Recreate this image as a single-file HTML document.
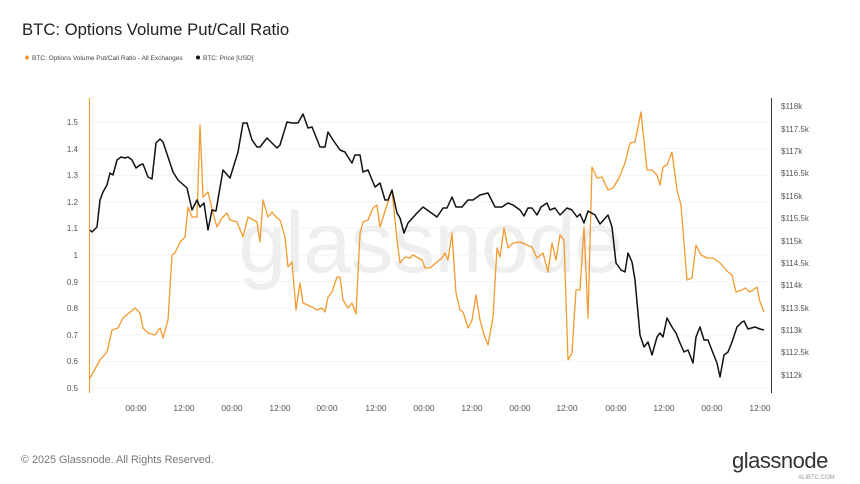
<!DOCTYPE html>
<html><head><meta charset="utf-8"><style>
html,body{margin:0;padding:0;background:#fff;width:860px;height:484px;overflow:hidden}
svg{display:block;font-family:"Liberation Sans",sans-serif}
</style></head><body>
<svg width="860" height="484" viewBox="0 0 860 484">
<text x="22" y="35" font-size="16.7" fill="#222">BTC: Options Volume Put/Call Ratio</text>
<circle cx="27" cy="57.5" r="2" fill="#f29a2e"/>
<text x="32" y="60" font-size="6.5" fill="#444">BTC: Options Volume Put/Call Ratio - All Exchanges</text>
<circle cx="198" cy="57.5" r="2" fill="#111"/>
<text x="203" y="60" font-size="6.5" fill="#444">BTC: Price [USD]</text>
<text x="430" y="272" font-size="86" fill="#eeeeee" text-anchor="middle" letter-spacing="-1">glassnode</text>
<g stroke="#f3f3f3" stroke-width="1">
<line x1="90" x2="770" y1="122" y2="122"/><line x1="90" x2="770" y1="148.6" y2="148.6"/><line x1="90" x2="770" y1="175.2" y2="175.2"/><line x1="90" x2="770" y1="201.8" y2="201.8"/><line x1="90" x2="770" y1="228.4" y2="228.4"/><line x1="90" x2="770" y1="255" y2="255"/><line x1="90" x2="770" y1="281.6" y2="281.6"/><line x1="90" x2="770" y1="308.2" y2="308.2"/><line x1="90" x2="770" y1="334.8" y2="334.8"/><line x1="90" x2="770" y1="361.4" y2="361.4"/><line x1="90" x2="770" y1="388" y2="388"/>
</g>
<line x1="89.5" y1="98" x2="89.5" y2="393" stroke="#f29a2e" stroke-width="1"/>
<line x1="771.5" y1="98" x2="771.5" y2="393" stroke="#333" stroke-width="1"/>
<g font-size="8" fill="#555" text-anchor="end">
<text x="78" y="125">1.5</text><text x="78" y="152">1.4</text><text x="78" y="178">1.3</text><text x="78" y="205">1.2</text><text x="78" y="231">1.1</text><text x="78" y="258">1</text><text x="78" y="285">0.9</text><text x="78" y="311">0.8</text><text x="78" y="338">0.7</text><text x="78" y="364">0.6</text><text x="78" y="391">0.5</text>
</g>
<g font-size="8" fill="#555">
<text x="781" y="109">$118k</text><text x="781" y="132">$117.5k</text><text x="781" y="154">$117k</text><text x="781" y="176">$116.5k</text><text x="781" y="199">$116k</text><text x="781" y="221">$115.5k</text><text x="781" y="244">$115k</text><text x="781" y="266">$114.5k</text><text x="781" y="288">$114k</text><text x="781" y="311">$113.5k</text><text x="781" y="333">$113k</text><text x="781" y="355">$112.5k</text><text x="781" y="378">$112k</text>
</g>
<g font-size="8.5" fill="#555" text-anchor="middle">
<text x="136" y="411">00:00</text><text x="184" y="411">12:00</text><text x="232" y="411">00:00</text><text x="280" y="411">12:00</text><text x="327" y="411">00:00</text><text x="376" y="411">12:00</text><text x="424" y="411">00:00</text><text x="472" y="411">12:00</text><text x="520" y="411">00:00</text><text x="567" y="411">12:00</text><text x="616" y="411">00:00</text><text x="664" y="411">12:00</text><text x="712" y="411">00:00</text><text x="760" y="411">12:00</text>
</g>
<polyline fill="none" stroke="#f29a2e" stroke-width="1.3" stroke-linejoin="round" points="90,378 100,360 107,352 112,330 118,328 123,318 135,308 140,313 143,328 148,333 155,335 160,328 163,338 168,320 172,255 175,253 180,242 185,237 188,207 192,217 197,217 200,125 203,197 208,192 213,213 217,227 222,218 227,213 230,220 237,222 243,237 248,217 257,222 260,242 263,200 268,217 272,212 277,218 280,220 285,237 288,267 292,262 296,310 300,283 303,303 312,307 317,310 322,308 325,312 328,297 332,292 337,277 340,277 343,300 348,308 352,303 356,314 360,233 363,222 368,220 373,208 377,205 380,227 387,205 392,190 397,240 400,263 405,257 410,258 413,255 422,260 425,268 430,268 437,262 442,258 445,253 448,260 452,233 456,293 460,310 463,312 468,328 472,320 476,295 480,320 484,335 488,345 493,317 497,248 500,257 504,228 508,248 513,243 520,242 527,245 532,247 537,258 543,253 548,272 552,243 556,260 560,235 564,240 568,360 572,353 576,290 580,290 584,227 588,318 592,167 597,178 602,177 608,190 613,188 619,178 625,163 630,143 635,142 641,112 647,170 652,170 657,175 660,185 663,167 667,165 672,152 677,190 681,205 687,280 692,278 696,245 701,255 707,258 713,258 720,263 728,272 732,275 736,292 742,290 745,288 750,292 757,287 760,302 764,312"/>
<polyline fill="none" stroke="#111" stroke-width="1.5" stroke-linejoin="round" points="90,230 92,232 97,227 100,200 103,192 107,185 110,173 113,175 117,160 121,157 125,158 128,157 132,160 136,168 140,165 143,164 148,177 152,179 156,143 160,139 163,142 168,157 173,172 178,180 187,188 192,210 197,200 200,207 204,203 208,230 212,210 216,211 223,170 230,178 238,152 243,123 247,123 252,140 257,147 260,147 267,138 277,148 280,145 287,122 292,123 298,123 303,114 308,128 312,127 320,147 325,147 328,132 333,140 340,150 345,152 348,157 352,163 355,155 360,155 363,172 368,170 375,187 380,183 385,200 388,200 392,190 397,213 400,218 404,233 408,223 417,213 423,207 430,212 437,217 443,208 447,208 452,197 456,207 462,207 468,200 473,200 480,195 488,193 495,207 502,207 508,203 513,205 520,210 524,216 528,208 532,208 537,215 541,207 547,203 550,210 555,208 560,215 567,208 572,210 577,217 580,214 584,223 588,211 595,215 600,224 608,215 612,227 616,263 621,270 625,272 628,253 632,262 635,280 640,335 644,347 648,342 652,355 657,337 660,333 663,337 667,318 672,327 676,333 680,343 684,352 688,350 693,363 696,337 700,327 704,340 708,340 713,353 717,363 720,377 724,355 728,352 732,342 737,327 742,322 744,321 748,329 755,327 760,329 764,330"/>
<text x="21" y="463" font-size="10.8" fill="#777">© 2025 Glassnode. All Rights Reserved.</text>
<text x="732" y="468" font-size="22" fill="#333" letter-spacing="-0.5">glassnode</text>
<text x="798" y="479" font-size="6" fill="#999">ALIBTC.COM</text>
</svg>
</body></html>
